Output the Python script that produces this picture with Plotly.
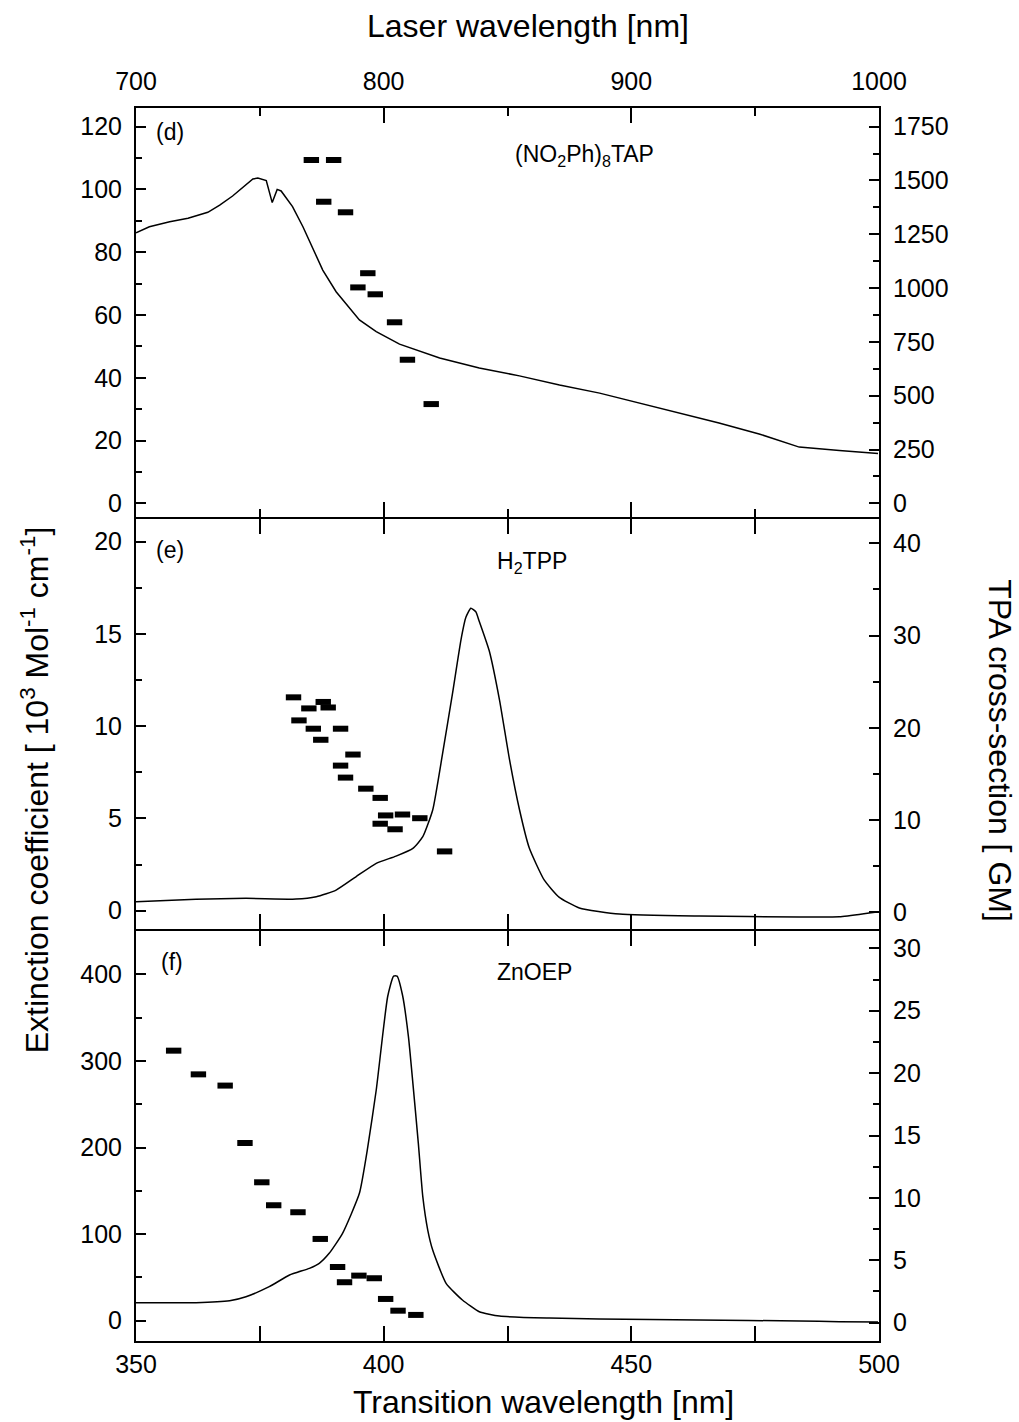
import plotly.graph_objects as go

# ---------------- data ----------------
# Panel (d): (NO2Ph)8TAP
d_line_nm = [350, 352.7, 356.8, 360.5, 364.5, 366.9, 369.5, 371.9, 373.6, 374.6, 376.3, 377.5,
             378.5, 379.3, 381.6, 383.7, 385.4, 387.7, 390.4, 393.1, 395.1, 398.5, 401.5, 403.2,
             411.3, 419.3, 427.4, 435.5, 443.6, 451.6, 459.7, 467.7, 475.8, 483.9, 492.0, 499.8]
d_line_eps = [86.2, 88.1, 89.7, 90.8, 92.7, 95.0, 97.9, 100.9, 103.3, 103.6, 102.8, 95.8,
              100.0, 99.5, 94.5, 88.1, 82.3, 74.3, 67.4, 62.1, 58.4, 54.7, 52.2, 50.7,
              46.3, 43.1, 40.6, 37.7, 35.1, 32.0, 28.8, 25.6, 22.1, 17.9, 16.8, 15.9]
d_laser_nm = [770.8, 779.8, 775.8, 784.6, 793.6, 789.6, 796.6, 804.4, 809.6, 819.2]
d_tpa = [1595, 1595, 1401, 1352, 1069, 1003, 971, 841, 667, 461]

# Panel (e): H2TPP
e_line_nm = [350, 362.1, 372.2, 382.3, 386.4, 390.4, 394.4, 398.5, 402.5, 405.9, 407.9, 409.9,
             411.9, 413.9, 415.6, 416.6, 417.6, 418.6, 419.2, 421.3, 423.4, 425.4, 427.4, 429.4,
             432.4, 435.4, 439.5, 447.6, 463.7, 483.9, 492.0, 498.0, 500]
e_line_eps = [0.49, 0.62, 0.67, 0.63, 0.76, 1.12, 1.84, 2.57, 2.96, 3.38, 4.01, 5.46,
              8.53, 11.78, 14.67, 15.9, 16.39, 16.2, 15.76, 14.1, 11.4, 8.2, 5.5, 3.4,
              1.67, 0.74, 0.15, -0.18, -0.29, -0.34, -0.33, -0.12, -0.05]
e_tpa_nm = [381.8, 384.9, 387.8, 388.8, 382.9, 385.8, 387.3, 391.3, 393.8, 391.3,
            392.3, 396.4, 399.3, 400.4, 403.8, 407.3, 399.3, 402.3, 412.3]
e_tpa = [23.3, 22.1, 22.8, 22.2, 20.8, 19.9, 18.7, 19.9, 17.1, 15.9,
         14.6, 13.4, 12.4, 10.5, 10.6, 10.2, 9.6, 9.0, 6.6]

# Panel (f): ZnOEP
f_line_nm = [350, 362.1, 368.9, 372.2, 376.9, 381.0, 385.0, 387.0, 389.0, 391.7, 395.1, 396.8,
             398.5, 400.8, 402.0, 402.7, 403.8, 405.0, 405.9, 407.0, 407.9, 408.9, 409.9, 412.6,
             415.9, 419.3, 423.4, 433.4, 443.5, 463.7, 483.9, 492.0, 499.8]
f_line_eps = [20.8, 20.8, 23.1, 27.7, 39.3, 52.8, 60.5, 66.3, 77.8, 100.9, 147.1, 200.9,
              266.4, 374.1, 398.0, 398.0, 376.1, 328.0, 274.1, 204.8, 143.2, 104.7, 81.6, 43.2,
              23.9, 10.4, 5.4, 3.1, 2.0, 0.8, -0.3, -1.2, -1.5]
f_tpa_nm = [357.6, 362.6, 368.0, 372.0, 375.4, 377.8, 382.7, 387.2, 390.7, 392.1,
            395.0, 398.1, 400.4, 402.9, 406.5]
f_tpa = [21.8, 19.9, 19.0, 14.4, 11.25, 9.41, 8.85, 6.71, 4.46, 3.24,
         3.77, 3.56, 1.90, 0.96, 0.62]

# ---------------- figure ----------------
FONT = "Liberation Sans, Arial, Helvetica, sans-serif"
TICKFONT = dict(family=FONT, size=25, color="black")
LINE = dict(color="black", width=1.5)
SMOOTH = dict(color="black", width=1.5, shape="spline", smoothing=0.5)
MARK = dict(symbol="line-ew", size=11, color="black", line=dict(width=6, color="black"))

fig = go.Figure()
# (d)
fig.add_trace(go.Scatter(x=d_line_nm, y=d_line_eps, mode="lines", line=LINE, xaxis="x3", yaxis="y5"))
fig.add_trace(go.Scatter(x=d_laser_nm, y=d_tpa, mode="markers", marker=MARK, xaxis="x4", yaxis="y6"))
# (e)
fig.add_trace(go.Scatter(x=e_line_nm, y=e_line_eps, mode="lines", line=SMOOTH, xaxis="x2", yaxis="y3"))
fig.add_trace(go.Scatter(x=e_tpa_nm, y=e_tpa, mode="markers", marker=MARK, xaxis="x2", yaxis="y4"))
# (f)
fig.add_trace(go.Scatter(x=f_line_nm, y=f_line_eps, mode="lines", line=SMOOTH, xaxis="x", yaxis="y"))
fig.add_trace(go.Scatter(x=f_tpa_nm, y=f_tpa, mode="markers", marker=MARK, xaxis="x", yaxis="y2"))


def xax(**kw):
    d = dict(range=[350, 500], tickmode="linear", tick0=350, dtick=50, ticks="inside", ticklen=15,
             tickwidth=2, tickcolor="black", showline=True, linewidth=2, linecolor="black",
             mirror="allticks", showgrid=False, zeroline=False, tickfont=TICKFONT,
             ticklabelstandoff=0,
             minor=dict(ticks="inside", ticklen=8, dtick=25, tickwidth=2, tickcolor="black"))
    d.update(kw)
    return d


def yax(rng, dtick, mdtick, **kw):
    d = dict(range=rng, tickmode="linear", tick0=0, dtick=dtick, ticks="inside", ticklen=10,
             tickwidth=2, tickcolor="black", showline=True, linewidth=2, linecolor="black",
             showgrid=False, zeroline=False, tickfont=TICKFONT, ticklabelstandoff=7,
             minor=dict(ticks="inside", ticklen=6, dtick=mdtick, tickwidth=2, tickcolor="black"))
    d.update(kw)
    return d


H = 1233.0  # plot-area height in px
dom_f = [0, 410 / H]
dom_e = [412 / H, 822 / H]
dom_d = [824 / H, 1]

fig.update_layout(
    width=1019, height=1422,
    margin=dict(l=136, r=140, t=108, b=81),
    paper_bgcolor="white", plot_bgcolor="white",
    showlegend=False,
    font=dict(family=FONT, color="black"),
    xaxis=xax(anchor="y", domain=[0, 1]),
    xaxis2=xax(anchor="y3", matches="x", showticklabels=False),
    xaxis3=xax(anchor="y5", matches="x", showticklabels=False),
    xaxis4=dict(overlaying="x3", anchor="y5", side="top", range=[700, 1000], tickmode="linear",
                tick0=700, dtick=100, ticks="inside", ticklen=15, tickwidth=2, tickcolor="black",
                showline=True, linewidth=2, linecolor="black", showgrid=False, zeroline=False,
                tickfont=TICKFONT, ticklabelstandoff=6,
                minor=dict(ticks="inside", ticklen=8, dtick=50, tickwidth=2, tickcolor="black")),
    yaxis=yax([-23.4, 450.0], 100, 50, domain=dom_f, anchor="x"),
    yaxis2=yax([-1.47, 31.39], 5, 2.5, overlaying="y", side="right", anchor="x"),
    yaxis3=yax([-0.99, 21.23], 5, 2.5, domain=dom_e, anchor="x2"),
    yaxis4=yax([-1.81, 42.63], 10, 5, overlaying="y3", side="right", anchor="x2"),
    yaxis5=yax([-4.36, 125.93], 20, 10, domain=dom_d, anchor="x3"),
    yaxis6=yax([-63.6, 1836.5], 250, 125, overlaying="y5", side="right", anchor="x3"),
)

ann_font = dict(family=FONT, size=23, color="black")
title_font = dict(family=FONT, size=32, color="black")
annotations = [
    dict(text="(d)", x=0.0458, y=0.9804, font=ann_font),
    dict(text="(e)", x=0.0458, y=0.6413, font=ann_font),
    dict(text="(f)", x=0.0480, y=0.3075, font=ann_font),
    dict(text="(NO<sub>2</sub>Ph)<sub>8</sub>TAP", x=0.6043, y=0.9615, font=ann_font),
    dict(text="H<sub>2</sub>TPP", x=0.533, y=0.6315, font=ann_font),
    dict(text="ZnOEP", x=0.537, y=0.2992, font=ann_font),
    dict(text="Laser wavelength [nm]", x=0.5276, y=1.0669, font=title_font),
    dict(text="Transition wavelength [nm]", x=0.5478, y=-0.0495, font=title_font),
    dict(text="Extinction coefficient [ 10<sup>3</sup> Mol<sup>-1</sup> cm<sup>-1</sup>]",
         x=-0.1359, y=0.4467, textangle=-90, font=title_font),
    dict(text="TPA cross-section [ GM]", x=1.1629, y=0.4791, textangle=90, font=title_font),
]
for a in annotations:
    a.update(xref="paper", yref="paper", showarrow=False, xanchor="center", yanchor="middle")
fig.update_layout(annotations=annotations)

fig.write_html("out.html",
               config={"displayModeBar": False},
               post_script="document.body.style.margin='0px';document.body.style.overflow='hidden';")
